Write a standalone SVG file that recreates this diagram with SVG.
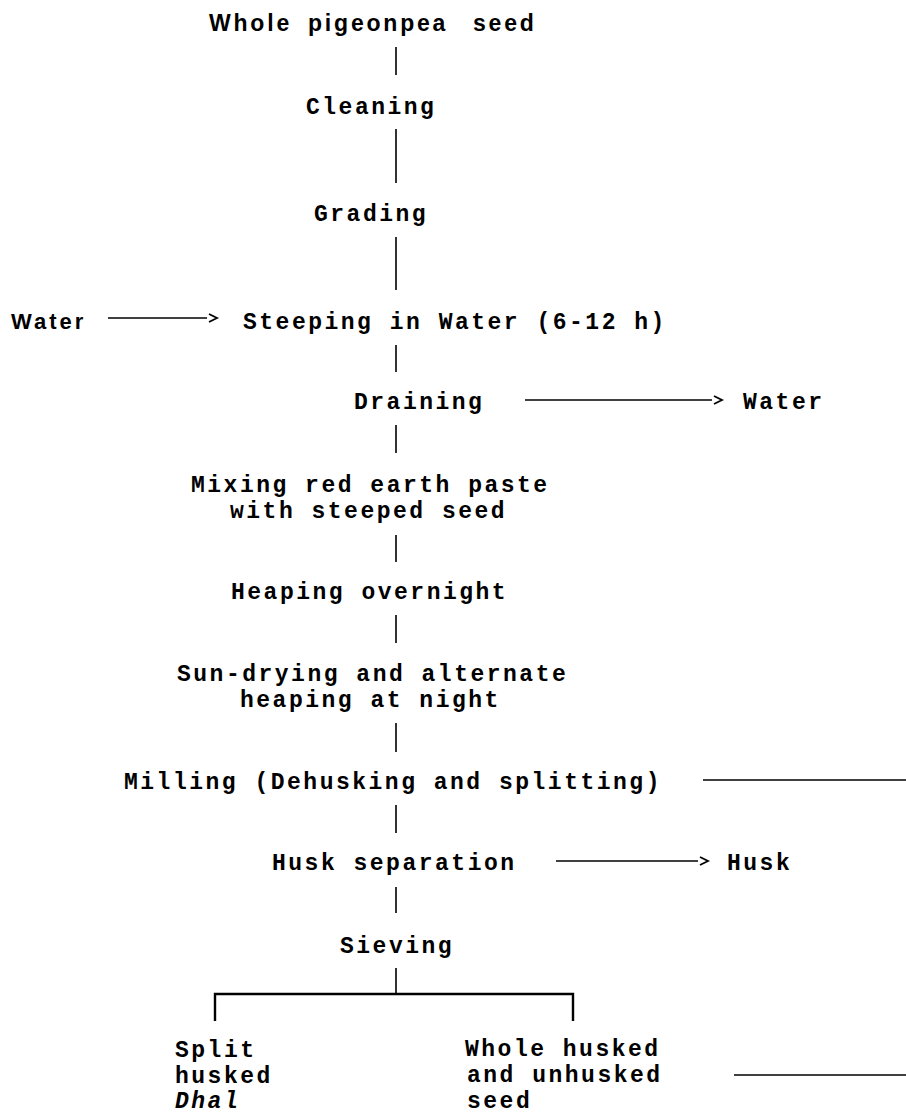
<svg xmlns="http://www.w3.org/2000/svg" width="906" height="1116" viewBox="0 0 906 1116">
  <style>
    .step { font-family: "Liberation Mono", "Courier New", monospace; font-weight: bold; font-size: 23px; letter-spacing: 2.5px; fill: #000; }
    .head { font-family: "Liberation Sans", Arial, sans-serif; font-weight: bold; fill: #000; }
    .it { font-style: italic; }
    .flow { stroke: #000; stroke-width: 1.6; fill: none; }
    .bar { stroke: #000; stroke-width: 2.4; fill: none; }
  </style>
  <defs>
    <marker id="chev" markerUnits="userSpaceOnUse" markerWidth="14" markerHeight="12" refX="0" refY="5" orient="auto">
      <path d="M2,1 L10,5 L2,9" fill="none" stroke="#000" stroke-width="1.8"/>
    </marker>
  </defs>
  <rect width="906" height="1116" fill="#fff"/>

  <!-- process steps -->
  <g id="whole-seed">
    <text class="head" font-size="23" letter-spacing="2.8" y="31"><tspan x="209">Whole</tspan><tspan x="308">pigeonpea</tspan><tspan x="473">seed</tspan></text>
  </g>
  <g id="cleaning"><text class="step" x="306" y="114">Cleaning</text></g>
  <g id="grading"><text class="step" x="314" y="221">Grading</text></g>
  <g id="water-in">
    <text class="head" font-size="22" letter-spacing="3" x="11" y="329">Water</text>
  </g>
  <g id="steeping"><text class="step" x="243" y="329">Steeping in Water (6-12 h)</text></g>
  <g id="draining"><text class="step" x="354" y="409">Draining</text></g>
  <g id="water-out"><text class="step" x="743" y="409">Water</text></g>
  <g id="mixing">
    <text class="step" x="191" y="492">Mixing red earth paste</text>
    <text class="step" x="230" y="518">with steeped seed</text>
  </g>
  <g id="heaping"><text class="step" x="231" y="599">Heaping overnight</text></g>
  <g id="sun-drying">
    <text class="step" x="177" y="681">Sun-drying and alternate</text>
    <text class="step" x="240" y="707">heaping at night</text>
  </g>
  <g id="milling"><text class="step" x="124" y="789">Milling (Dehusking and splitting)</text></g>
  <g id="husk-separation"><text class="step" x="272" y="870">Husk separation</text></g>
  <g id="husk"><text class="step" x="727" y="870">Husk</text></g>
  <g id="sieving"><text class="step" x="340" y="953">Sieving</text></g>
  <g id="dhal">
    <text class="step" x="175" y="1057">Split</text>
    <text class="step" x="175" y="1083">husked</text>
    <text class="step it" x="175" y="1108">Dhal</text>
  </g>
  <g id="whole-husked">
    <text class="step" x="465" y="1056">Whole husked</text>
    <text class="step" x="467" y="1082">and unhusked</text>
    <text class="step" x="467" y="1108">seed</text>
  </g>

  <!-- connectors -->
  <g id="connectors">
    <line class="flow" x1="396" y1="47" x2="396" y2="75"/>
    <line class="flow" x1="396" y1="129" x2="396" y2="183"/>
    <line class="flow" x1="396" y1="237" x2="396" y2="290"/>
    <line class="flow" x1="396" y1="345" x2="396" y2="372"/>
    <line class="flow" x1="396" y1="425" x2="396" y2="453"/>
    <line class="flow" x1="396" y1="535" x2="396" y2="562"/>
    <line class="flow" x1="396" y1="615" x2="396" y2="643"/>
    <line class="flow" x1="396" y1="723" x2="396" y2="752"/>
    <line class="flow" x1="396" y1="805" x2="396" y2="833"/>
    <line class="flow" x1="396" y1="887" x2="396" y2="913"/>
    <line class="flow" x1="396" y1="968" x2="396" y2="994"/>

    <line class="flow" x1="108" y1="318" x2="207" y2="318" marker-end="url(#chev)"/>
    <line class="flow" x1="525" y1="400" x2="712" y2="400" marker-end="url(#chev)"/>
    <line class="flow" x1="556" y1="861" x2="698" y2="861" marker-end="url(#chev)"/>

    <line class="flow" x1="703" y1="780" x2="906" y2="780"/>
    <line class="flow" x1="734" y1="1075" x2="906" y2="1075"/>

    <path class="bar" d="M215,1021 V994 H573 V1021"/>
  </g>
</svg>
